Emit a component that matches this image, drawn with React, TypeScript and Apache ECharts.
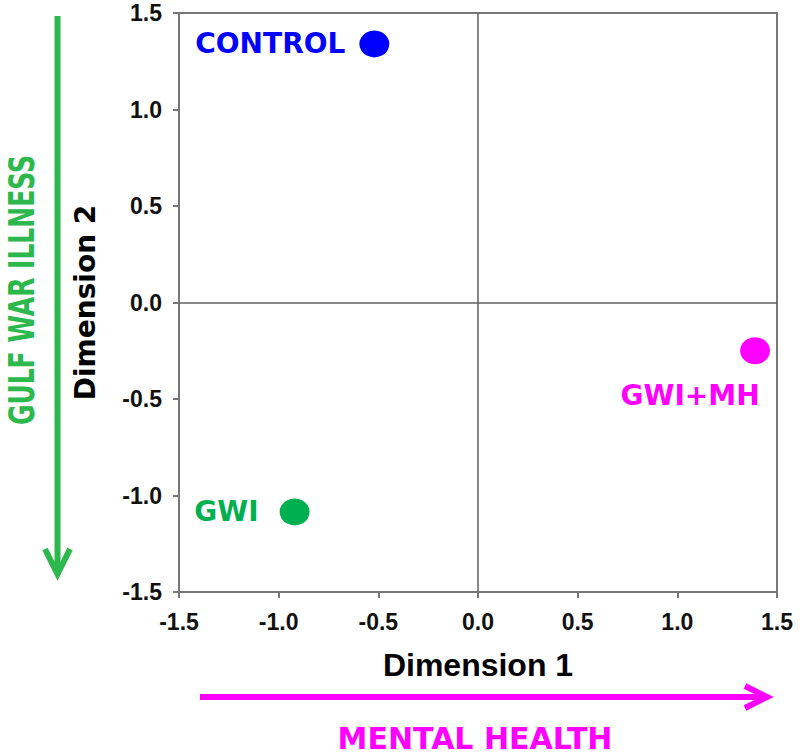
import React, { useEffect, useRef } from "react";
import * as echarts from "echarts";

const groups = ["CONTROL", "GWI", "GWI+MH"];
const dimension1 = [-0.52, -0.92, 1.39];
const dimension2 = [1.34, -1.085, -0.25];
const groupColors = ["#0000ff", "#00b050", "#ff00ff"];
const axisTicks = [-1.5, -1.0, -0.5, 0.0, 0.5, 1.0, 1.5];

const labelFont = { fontFamily: "DejaVu Sans", fontWeight: "bold" as const, fontSize: 28 };

export default function App() {
  const ref = useRef<HTMLDivElement>(null);
  useEffect(() => {
    if (!ref.current) return;
    const chart = echarts.init(ref.current, null, { renderer: "svg" });
    const labelCfg: any[] = [
      { show: true, position: "left", distance: 14, ...labelFont, color: groupColors[0] },
      { show: true, position: "left", distance: 21, ...labelFont, color: groupColors[1] },
      {
        show: true,
        position: [-50, 58],
        align: "center",
        verticalAlign: "middle",
        ...labelFont,
        color: groupColors[2],
      },
    ];
    const data = groups.map((g, i) => ({
      name: g,
      value: [dimension1[i], dimension2[i]],
      itemStyle: { color: groupColors[i], opacity: 1 },
      label: { ...labelCfg[i], opacity: 1, formatter: g },
    }));
    const axisCommon = {
      type: "value" as const,
      min: axisTicks[0],
      max: axisTicks[axisTicks.length - 1],
      interval: 0.5,
      axisLine: { show: true, onZero: false, lineStyle: { color: "#777777", width: 2 } },
      axisTick: { show: true, inside: false, length: 6, lineStyle: { color: "#777777", width: 2 } },
      splitLine: { show: false },
    };
    chart.setOption({
      animation: false,
      backgroundColor: "#ffffff",
      grid: {
        left: 179,
        right: 23,
        top: 13,
        bottom: 163,
        show: true,
        borderColor: "#777777",
        borderWidth: 2,
      },
      xAxis: {
        ...axisCommon,
        name: "Dimension 1",
        nameLocation: "middle",
        nameGap: 57,
        nameTextStyle: { fontFamily: "Liberation Sans", fontWeight: "bold", fontSize: 32, color: "#000" },
        axisLabel: {
          margin: 18,
          fontFamily: "Liberation Sans",
          fontWeight: "bold",
          fontSize: 23,
          color: "#111",
          formatter: (v: number) => v.toFixed(1),
        },
      },
      yAxis: {
        ...axisCommon,
        name: "Dimension 2",
        nameLocation: "middle",
        nameGap: 80,
        nameTextStyle: { fontFamily: "DejaVu Sans", fontWeight: "bold", fontSize: 28, color: "#000" },
        axisLabel: {
          margin: 17,
          fontFamily: "Liberation Sans",
          fontWeight: "bold",
          fontSize: 23,
          color: "#111",
          formatter: (v: number) => v.toFixed(1),
        },
      },
      series: [
        {
          type: "scatter",
          symbol: "circle",
          symbolSize: [30, 27],
          itemStyle: { opacity: 1 },
          data,
          markLine: {
            silent: true,
            symbol: "none",
            label: { show: false },
            lineStyle: { color: "#606060", width: 1.5, type: "solid", opacity: 1 },
            data: [{ xAxis: 0 }, { yAxis: 0 }],
          },
        },
      ],
      graphic: [
        {
          type: "line",
          shape: { x1: 57.5, y1: 16, x2: 57.5, y2: 574 },
          style: { stroke: "#2db84d", lineWidth: 6 },
        },
        {
          type: "polyline",
          shape: { points: [[45, 549], [57.5, 574], [70, 549]] },
          style: { stroke: "#2db84d", lineWidth: 6, fill: "none" },
        },
        {
          type: "text",
          x: 21,
          y: 290,
          rotation: Math.PI / 2,
          scaleY: 1.45,
          style: {
            text: "GULF WAR ILLNESS",
            fontFamily: "DejaVu Sans",
            fontWeight: "bold",
            fontSize: 25,
            fill: "#2db84d",
            align: "center",
            verticalAlign: "middle",
          },
        },
        {
          type: "line",
          shape: { x1: 200, y1: 697, x2: 766, y2: 697 },
          style: { stroke: "#ff00ff", lineWidth: 6 },
        },
        {
          type: "polyline",
          shape: { points: [[745, 686], [767, 697], [745, 708]] },
          style: { stroke: "#ff00ff", lineWidth: 6, fill: "none" },
        },
        {
          type: "text",
          x: 475,
          y: 738,
          style: {
            text: "MENTAL HEALTH",
            fontFamily: "DejaVu Sans",
            fontWeight: "bold",
            fontSize: 30,
            fill: "#ff00ff",
            align: "center",
            verticalAlign: "middle",
          },
        },
      ],
    });
    return () => chart.dispose();
  }, []);
  return (
    <div
      ref={ref}
      style={{ position: "fixed", left: 0, top: 0, width: 800, height: 755, background: "#fff" }}
    />
  );
}
